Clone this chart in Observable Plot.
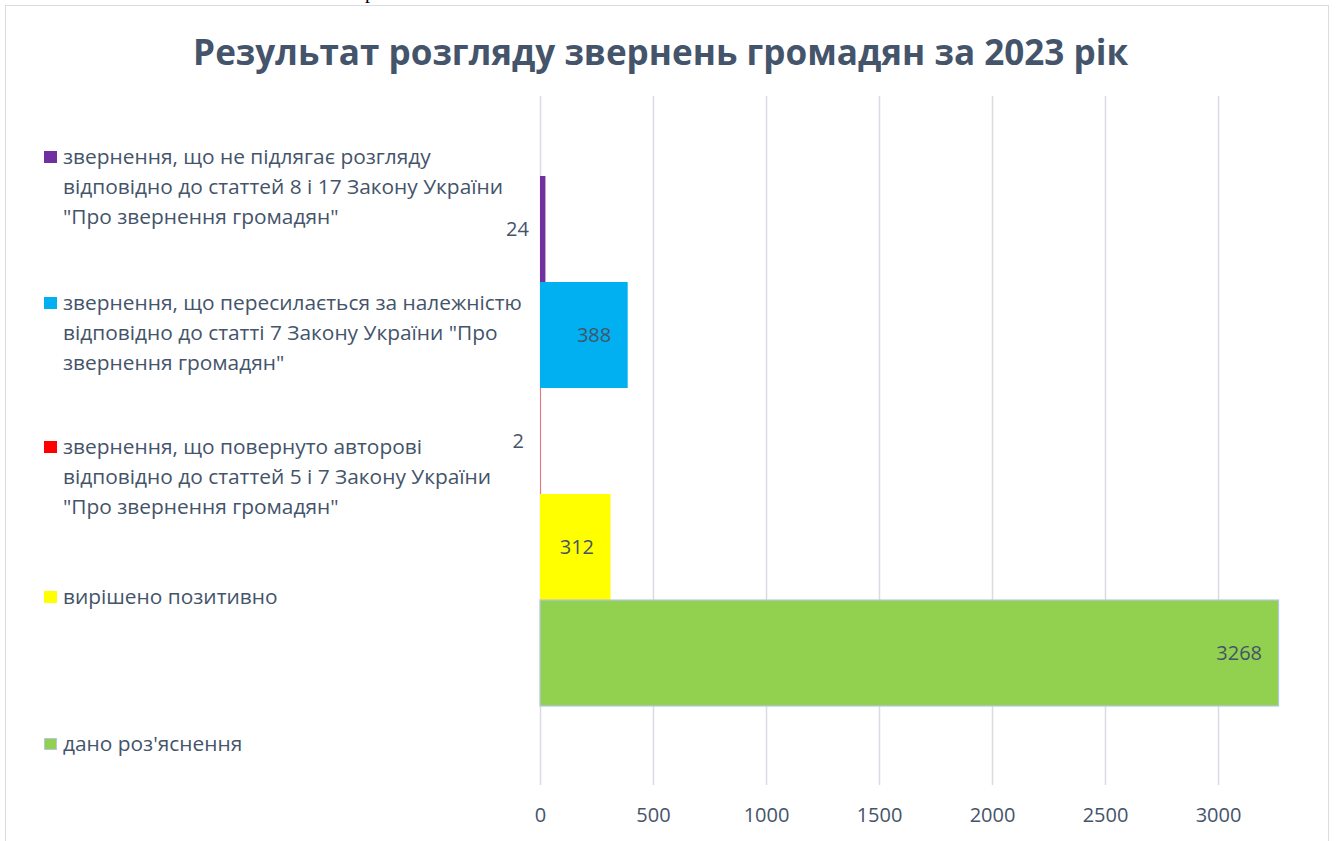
<!DOCTYPE html>
<html><head><meta charset="utf-8">
<script src="https://cdn.jsdelivr.net/npm/d3@7"></script>
<script src="https://cdn.jsdelivr.net/npm/@observablehq/plot@0.6"></script>
<style>
body{margin:0;background:#fff;}
#wrap{position:relative;width:1336px;height:841px;overflow:hidden;font-family:"Open Sans",sans-serif;background:#fff;}
#frame{position:absolute;left:5px;top:5px;width:1324px;height:900px;border:1.5px solid #D9DCE3;box-sizing:border-box;}
#stray{position:absolute;left:365px;top:-19px;font-family:"Liberation Serif",serif;font-size:20px;line-height:20px;color:#000;}
#title{position:absolute;left:-7px;top:27px;width:1336px;text-align:center;font-weight:700;font-size:35px;line-height:50px;color:#44546A;white-space:nowrap;}
#title span{display:inline-block;transform-origin:center;}
.leg{position:absolute;left:44px;font-size:20px;line-height:30px;color:#44546A;white-space:nowrap;}
.sw{position:absolute;left:0;top:9px;width:13px;height:12px;box-sizing:border-box;}
.lt{position:absolute;left:19px;top:0;transform-origin:left top;}
#chart{position:absolute;left:0;top:0;}
</style>
</head><body>
<div id="wrap">
  <div id="frame"></div>
  <div id="stray">р</div>
  <div id="title"><span>Результат розгляду звернень громадян за 2023 рік</span></div>
  <div id="chart"></div>
</div>
<script>
const categories = [
  "дано роз'яснення",
  "вирішено позитивно",
  "звернення, що повернуто авторові\nвідповідно до статтей 5 і 7 Закону України\n\"Про звернення громадян\"",
  "звернення, що пересилається за належністю\nвідповідно до статті 7 Закону України \"Про\nзвернення громадян\"",
  "звернення, що не підлягає розгляду\nвідповідно до статтей 8 і 17 Закону України\n\"Про звернення громадян\""
];
const values = [3268, 312, 2, 388, 24];
const colors = ["#92D050", "#FFFF00", "#FF0000", "#00B0F0", "#7030A0"];
const xTicks = [0, 500, 1000, 1500, 2000, 2500, 3000];

const data = categories.map((c, i) => ({cat: c, value: values[i], color: colors[i], i}));
const order = [...categories].reverse();

const plot = Plot.plot({
  width: 1336,
  height: 841,
  marginTop: 96,
  marginBottom: 56,
  marginLeft: 540,
  marginRight: 118,
  style: {fontFamily: "'Open Sans', sans-serif", fontSize: "20px", color: "#44546A", background: "transparent", overflow: "visible"},
  x: {domain: [0, 3000], range: [540, 1218], ticks: xTicks, tickSize: 0, tickPadding: 22, tickFormat: d3.format("d"), label: null},
  y: {domain: order, paddingInner: 0, paddingOuter: 0.738, axis: null},
  color: {type: "identity"},
  marks: [
    Plot.gridX(xTicks, {stroke: "#D9DCE3", strokeOpacity: 1, strokeWidth: 1.5}),
    Plot.barX(data, {x: "value", y: "cat", fill: "color", inset: 0}),
    Plot.barX(data.filter(d => d.i === 0), {x: "value", y: "cat", fill: "none", stroke: "#B4C7E7", strokeWidth: 1.2, inset: 0}),
    Plot.text(data, {x: "value", y: "cat", text: d => String(d.value), textAnchor: "end", dx: -17, fill: "#44546A", fontSize: 20})
  ]
});
document.getElementById("chart").appendChild(plot);

// legend (top to bottom in reverse series order)
const wrap = document.getElementById("wrap");
const legTops = [157, 303, 447, 597, 744];
order.forEach((c, k) => {
  const idx = categories.indexOf(c);
  const div = document.createElement("div");
  div.className = "leg";
  div.style.top = (legTops[k] - 15) + "px";
  const sw = document.createElement("div");
  sw.className = "sw";
  sw.style.background = colors[idx];
  if (idx === 0) sw.style.border = "1px solid #B4C7E7";
  const t = document.createElement("div");
  t.className = "lt";
  t.innerHTML = c.split("\n").map(s => s.replace(/&/g,"&amp;").replace(/</g,"&lt;")).join("<br>");
  div.appendChild(sw); div.appendChild(t);
  wrap.appendChild(div);
});
// fit legend text width to reference line width
const probe = document.createElement("span");
probe.style.cssText = "position:absolute;visibility:hidden;font-size:20px;white-space:nowrap;font-family:'Open Sans',sans-serif";
probe.textContent = "відповідно до статтей 8 і 17 Закону України";
wrap.appendChild(probe);
const sx = 440 / probe.getBoundingClientRect().width;
probe.remove();
document.querySelectorAll(".lt").forEach(el => el.style.transform = `scaleX(${sx})`);
// fit title width
const ts = document.querySelector("#title span");
ts.style.transform = `scaleX(${935 / ts.getBoundingClientRect().width})`;
</script>
</body></html>
